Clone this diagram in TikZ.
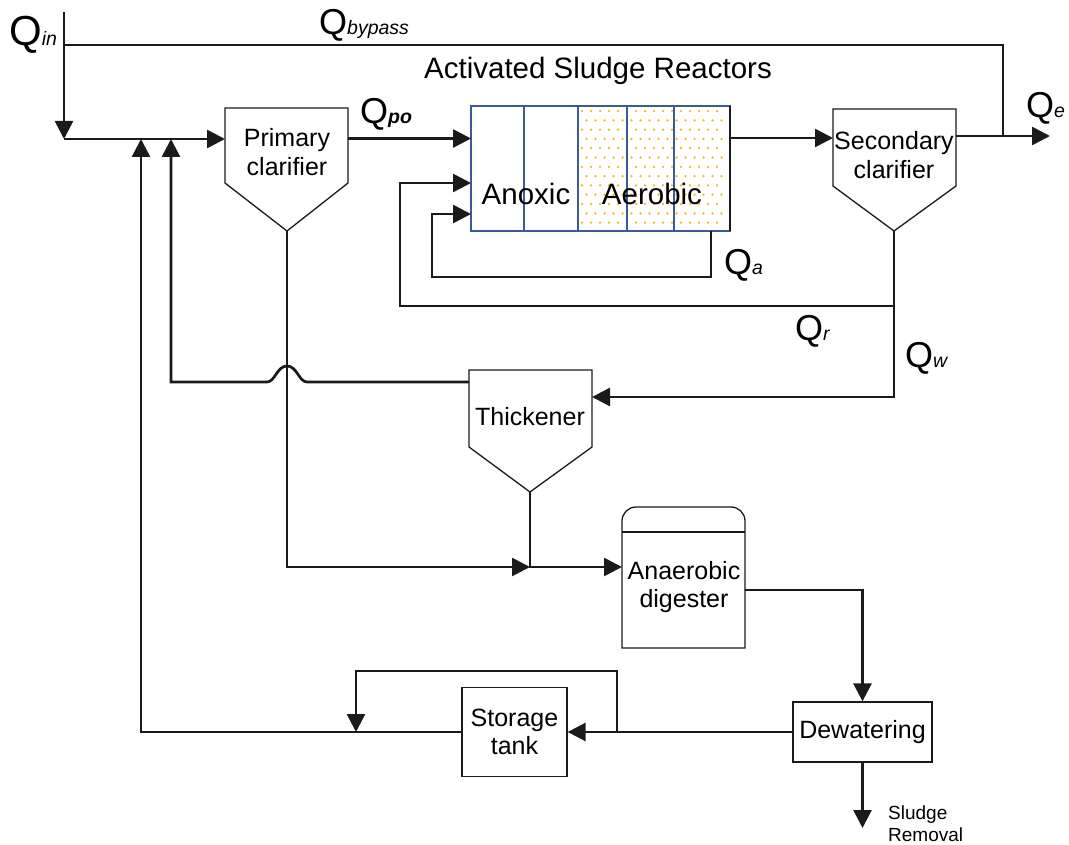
\documentclass[tikz,border=0pt]{standalone}
\usepackage{fontspec}
\setmainfont{Liberation Sans}
\usetikzlibrary{arrows.meta}

\definecolor{linegray}{HTML}{1A1A1A}
\definecolor{reactorblue}{HTML}{3A5A98}
\definecolor{dotorange}{HTML}{F7B500}

\tikzset{
    flow/.style={line width=2.7pt, draw=linegray},
    unit/.style={line width=1.3pt, draw=linegray},
    unitlabel/.style={font=\fontsize{25}{28.5}\selectfont, align=center, inner sep=0pt},
    biglabel/.style={font=\fontsize{29.5}{32}\selectfont, inner sep=0pt},
    qlabel/.style={inner sep=0pt, anchor=base west},
}
\newcommand\flowq[2][36]{{\fontsize{#1}{#1}\selectfont Q}{\fontsize{19.5}{19.5}\selectfont\itshape #2}}

\begin{document}
\begin{tikzpicture}[x=1pt, y=-1pt, >={Triangle[length=18pt, width=18pt]}]
    \useasboundingbox (0,0) rectangle (1069,845);

    % primary clarifier
    \draw[unit] (225,108) -- (348,108) -- (348,183) -- (287,231) -- (225,183) -- cycle;
    \node[unitlabel] (pc) at (287,152) {Primary\\clarifier};
    \coordinate (pc-in) at (225,139);
    \coordinate (pc-out) at (348,138.5);
    \coordinate (pc-tip) at (287,231);

    % activated sludge reactors
    \foreach \r in {0,...,12}
        \foreach \c in {0,...,15}
            \fill[dotorange] ({582+9*\c+4.5*mod(\r,2)},{111+9.3*\r}) circle (1.25pt);
    \draw[reactorblue, line width=1.6pt] (471,106) rectangle (730,231);
    \foreach \x in {524,578,627,674}
        \draw[reactorblue, line width=1.3pt] (\x,106) -- (\x,231);
    \draw[linegray, line width=2.2pt] (730,106) -- (730,231);
    \node[biglabel, anchor=base] (asr) at (598,79) {Activated Sludge Reactors};
    \node[biglabel, anchor=base] (anox) at (526,205) {Anoxic};
    \node[biglabel, anchor=base] (aer) at (652,205) {Aerobic};
    \coordinate (r-in1) at (471,138.5);
    \coordinate (r-in2) at (471,183);
    \coordinate (r-in3) at (471,214);
    \coordinate (r-out) at (730,138);
    \coordinate (r-qa) at (711,231);

    % secondary clarifier
    \draw[unit] (833,109) -- (956,109) -- (956,186) -- (894,231) -- (833,186) -- cycle;
    \node[unitlabel] (sc) at (894,155) {Secondary\\clarifier};
    \coordinate (sc-in) at (833,138);
    \coordinate (sc-out) at (956,136);
    \coordinate (sc-tip) at (894,231);

    % thickener
    \draw[unit] (469,370) -- (592,370) -- (592,447) -- (530,492) -- (469,447) -- cycle;
    \node[unitlabel] (thk) at (530,417) {Thickener};
    \coordinate (thk-in) at (592,397);
    \coordinate (thk-ovf) at (469,382);
    \coordinate (thk-tip) at (530,492);

    % anaerobic digester
    \draw[unit] (622,648) -- (622,521) arc[start angle=180, end angle=270, radius=14]
        -- (731,507) arc[start angle=270, end angle=360, radius=14] -- (745,648) -- cycle;
    \draw[unit] (622,532) -- (745,532);
    \node[unitlabel] (dig) at (684,587) {Anaerobic\\digester};
    \coordinate (dig-in) at (622,567);
    \coordinate (dig-out) at (745,590);

    % dewatering and storage
    \node[unit, draw, unitlabel, minimum width=139pt, minimum height=60pt] (dew) at (862.5,732) {Dewatering};
    \node[unit, draw, unitlabel, minimum width=105pt, minimum height=89pt] (stor) at (514.5,732) {Storage\\tank};

    % flow labels
    \node[qlabel] (q-in) at (9,46) {\flowq[42]{in}};
    \node[qlabel] (q-byp) at (319,35) {\flowq{bypass}};
    \node[qlabel] (q-po) at (360,124) {\flowq{\bfseries po}};
    \node[qlabel] (q-e) at (1026,118) {\flowq{e}};
    \node[qlabel] (q-a) at (724,275) {\flowq{a}};
    \node[qlabel] (q-r) at (795,341) {\flowq{r}};
    \node[qlabel] (q-w) at (905,367) {\flowq{w}};

    % influent, bypass and main line
    \coordinate (inlet) at (64,12);
    \coordinate (split) at (64,45);
    \coordinate (mix) at (64,139);
    \coordinate (ret-store) at (141,139);
    \coordinate (ret-thk) at (171,139);
    \coordinate (byp-turn) at (1003,45);
    \coordinate (byp-join) at (1003,136);
    \coordinate (eff) at (1050,136);

    \draw[flow, ->] (inlet) -- (mix);
    \draw[flow] (split) -- (byp-turn) -- (byp-join);
    \draw[flow, ->] (mix) -- (pc-in);
    \draw[flow, ->] (pc-out) -- (r-in1);
    \draw[flow, ->] (r-out) -- (sc-in);
    \draw[flow, ->] (sc-out) -- (eff);

    % internal recycle
    \coordinate (qa-turn) at (432,277);
    \draw[flow, ->] (r-qa) |- (qa-turn) |- (r-in3);

    % return and waste sludge
    \coordinate (qr-split) at (894,306);
    \coordinate (qr-turn) at (400,306);
    \draw[flow, ->] (sc-tip) -- (qr-split) -- (qr-turn) |- (r-in2);
    \draw[flow, ->] (qr-split) |- (thk-in);

    % thickener overflow, hops over the primary sludge line
    \coordinate (hop-r) at (307,382);
    \coordinate (hop-top) at (287,366);
    \coordinate (hop-l) at (267,382);
    \coordinate (ovf-turn) at (171,382);
    \draw[flow, ->] (thk-ovf) -- (hop-r) .. controls +(-8,0) and +(10,0) .. (hop-top)
        .. controls +(-10,0) and +(8,0) .. (hop-l) -- (ovf-turn) -- (ret-thk);

    % sludge to digester
    \coordinate (dig-join) at (530,567);
    \draw[flow, ->] (pc-tip) |- (dig-join);
    \draw[flow, ->] (thk-tip) |- (dig-in);
    \draw[flow, ->] (dig-out) -| (dew.north);

    % dewatering, storage
    \draw[flow, ->] (dew.west) -- (stor.east);
    \coordinate (sb-a) at (617,732);
    \coordinate (sb-b) at (356,671);
    \coordinate (sb-c) at (356,732);
    \draw[flow, ->] (sb-a) |- (sb-b) -- (sb-c);
    \draw[flow, ->] (stor.west) -| (ret-store);

    \coordinate (sludge) at (862.5,828);
    \draw[flow, ->] (dew.south) -- (sludge);
    \node[anchor=north west, inner sep=0pt, align=left, font=\fontsize{19}{22}\selectfont] (rem) at (888,806) {Sludge\\Removal};
\end{tikzpicture}
\end{document}
